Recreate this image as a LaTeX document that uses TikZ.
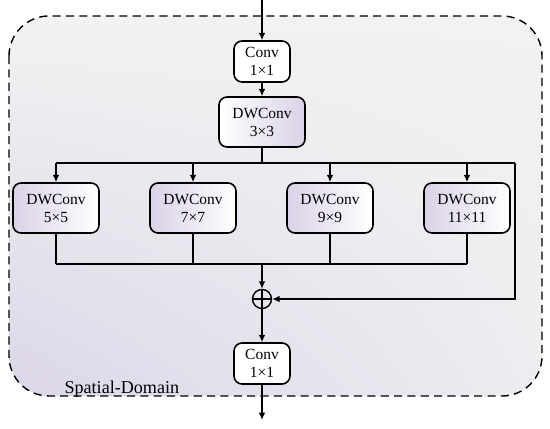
\documentclass[tikz,border=0pt]{standalone}
\usepackage{fontspec}
\setmainfont{Liberation Serif}
\usetikzlibrary{arrows.meta,positioning,calc,shadings}

\definecolor{bggray}{HTML}{F2F2F2}
\definecolor{bglav}{HTML}{DCD6E8}
\definecolor{boxlav}{HTML}{DAD2E7}

\begin{document}
\begin{tikzpicture}[
  >={Latex[length=4.2pt,width=3.8pt]},
  line width=0.8pt,
  blk/.style={draw, line width=0.9pt, rounded corners=0.16cm, align=center, inner sep=0pt,
    font=\fontsize{8.8}{10.2}\selectfont},
  convbox/.style={blk, minimum width=1.12cm, minimum height=0.82cm, fill=white},
  dwbox/.style={blk, minimum width=1.72cm, minimum height=1.0cm, left color=boxlav, right color=white},
  frame/.style={draw, dashed, dash pattern=on 4.6pt off 3pt, line width=0.8pt, rounded corners=0.8cm,
    lower left=bglav, upper left=bggray, upper right=bggray, lower right=bggray!80!bglav}
]
\useasboundingbox (0,0) rectangle (11,-8.58);

% dashed domain frame
\path[frame] (0.18,-0.32) rectangle (10.84,-7.92);
\node[anchor=base west, font=\fontsize{10.3}{12}\selectfont] (lbl) at (1.16,-7.86) {Spatial-Domain};

% blocks
\node[convbox] (conv1) at (5.24,-1.23) {Conv\\1×1};
\node[dwbox, left color=white, right color=boxlav] (dw3) at (5.24,-2.44) {DWConv\\3×3};
\foreach \n/\x/\k in {b5/1.12/5, b7/3.86/7, b9/6.60/9, b11/9.34/11} {
  \node[dwbox] (\n) at (\x,-4.16) {DWConv\\\k×\k};
}
\node[circle, draw, line width=0.8pt, minimum size=0.38cm, inner sep=0pt] (sum) at (5.24,-5.98) {};
\draw (sum.north) -- (sum.south) (sum.west) -- (sum.east);
\node[convbox] (conv2) at (5.24,-7.27) {Conv\\1×1};

% helper points
\coordinate (in) at (5.24,0);
\coordinate (out) at (5.24,-8.4);
\coordinate (split) at (5.24,-3.26);
\coordinate (fb) at (10.3,-3.26);
\coordinate (merge) at (5.24,-5.28);

% connectors
\draw[->] (in) -- (conv1);
\draw[->] (conv1) -- (dw3);
\draw (dw3) -- (split);
\draw (b5 |- split) -- (fb);
\foreach \n in {b5,b7,b9,b11} {
  \draw[->] (\n |- split) -- (\n);
  \draw (\n) -- (\n |- merge);
}
\draw (b5 |- merge) -- (b11 |- merge);
\draw[->] (merge) -- (sum);
\draw[->] (fb) |- (sum);
\draw[->] (sum) -- (conv2);
\draw[->] (conv2) -- (out);
\end{tikzpicture}
\end{document}
